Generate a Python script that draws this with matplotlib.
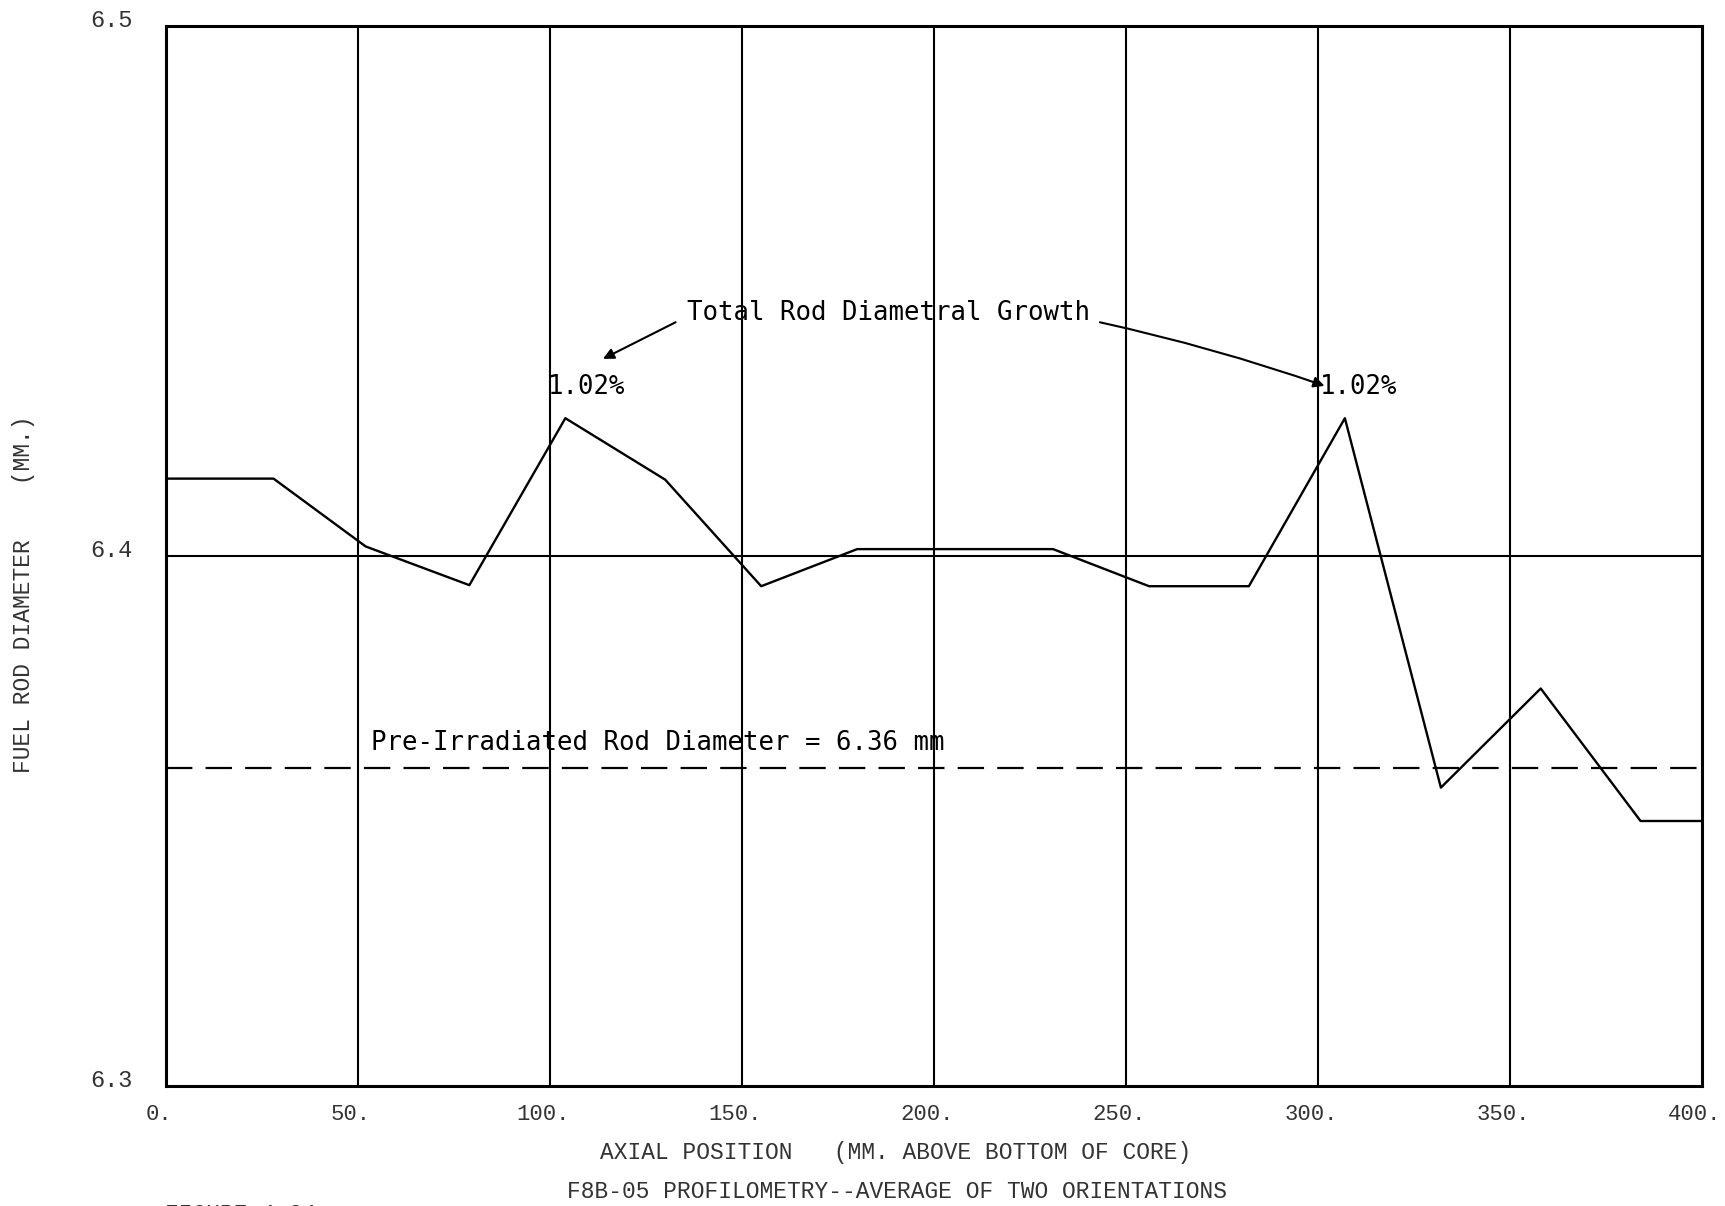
import matplotlib
matplotlib.use("Agg")
import matplotlib.pyplot as plt
from matplotlib.transforms import ScaledTranslation

# Axial profile of the rod diameter (average of two orientations)
axial_mm = [0, 28, 52, 79, 104, 130, 155, 180, 206, 231, 256, 282, 307, 332, 358, 384, 400]
diameter_mm = [6.4146, 6.4146, 6.4018, 6.3945, 6.426, 6.4144, 6.3943, 6.4013, 6.4013,
               6.4013, 6.3943, 6.3943, 6.426, 6.3563, 6.375, 6.350, 6.350]

pre_irradiated_mm = 6.36
growth_labels = ["1.02%", "1.02%"]
growth_label_x = [99.5, 300.5]

x_ticks = [0, 50, 100, 150, 200, 250, 300, 350, 400]
x_tick_labels = ["0.", "50.", "100.", "150.", "200.", "250.", "300.", "350.", "400."]
y_ticks = [6.3, 6.4, 6.5]
y_tick_labels = ["6.3", "6.4", "6.5"]

plt.rcParams["lines.scale_dashes"] = False

W, H, DPI = 1725, 1206, 100
fig = plt.figure(figsize=(W / DPI, H / DPI), dpi=DPI)
fig.patch.set_facecolor("white")
ax = fig.add_axes([166 / W, 1 - 1086 / H, (1702 - 166) / W, (1086 - 26) / H])

ax.set_xlim(0, 400)
ax.set_ylim(6.3, 6.5)

# grid: vertical lines every 50 mm, one horizontal line at 6.4
for xv in x_ticks[1:-1]:
    ax.axvline(xv, color="black", lw=1.5, zorder=1)
ax.axhline(6.4, color="black", lw=1.5, zorder=1)

# reference diameter before irradiation
ax.axhline(pre_irradiated_mm, color="black", lw=1.6, dashes=(19, 9.5), zorder=2)

# measured profile
ax.plot(axial_mm, diameter_mm, color="black", lw=1.7, zorder=3)

for sp in ax.spines.values():
    sp.set_linewidth(2.2)
    sp.set_color("black")

mono = ["Liberation Mono", "DejaVu Sans Mono"]
ax.set_xticks(x_ticks)
ax.set_xticklabels(x_tick_labels, family=mono, fontsize=16, color="#333333")
ax.set_yticks(y_ticks)
ax.set_yticklabels(y_tick_labels, family=mono, fontsize=17, color="#333333")
ax.tick_params(axis="both", length=0)
ax.tick_params(axis="x", pad=13)
ax.tick_params(axis="y", pad=24)
for lab in ax.get_xticklabels():
    lab.set_transform(lab.get_transform() + ScaledTranslation(-7 / DPI, 0, fig.dpi_scale_trans))
for lab in ax.get_yticklabels():
    lab.set_transform(lab.get_transform() + ScaledTranslation(0, 8 / DPI, fig.dpi_scale_trans))

# annotations
ann_font = dict(family=["DejaVu Sans Mono"], fontsize=18.5, color="black")
ax.text(53.3, 6.3648, "Pre-Irradiated Rod Diameter = 6.36 mm", ha="left", va="center", **ann_font)
ax.text(135.8, 6.4458, "Total Rod Diametral Growth", ha="left", va="center", **ann_font)
for gx, gl in zip(growth_label_x, growth_labels):
    ax.text(gx, 6.4319, gl, ha="left", va="center", **ann_font)

ax.annotate("", xy=(113.8, 6.4372), xytext=(132.7, 6.4441),
            arrowprops=dict(arrowstyle="-|>", color="black", lw=1.5,
                            mutation_scale=16, shrinkA=0, shrinkB=0))
ax.annotate("", xy=(301.7, 6.4321), xytext=(243.2, 6.4441),
            arrowprops=dict(arrowstyle="-|>", color="black", lw=1.5,
                            mutation_scale=16, shrinkA=0, shrinkB=0,
                            connectionstyle="arc3,rad=-0.03"))

# axis titles and caption
lab_font = dict(family=mono, fontsize=16.5, color="#333333")
fig.text(896 / W, 1 - 1152 / H, "AXIAL POSITION   (MM. ABOVE BOTTOM OF CORE)",
         ha="center", va="center", **lab_font)
fig.text(897 / W, 1 - 1191 / H, "F8B-05 PROFILOMETRY--AVERAGE OF TWO ORIENTATIONS",
         ha="center", va="center", **lab_font)
fig.text(24 / W, 1 - 594 / H, "FUEL ROD DIAMETER    (MM.)", rotation=90,
         ha="center", va="center", **lab_font)
fig.text(165 / W, 1 - 1203 / H, "FIGURE 4.34", ha="left", va="top", **lab_font)

fig.savefig("out.png", dpi=DPI, facecolor="white")
